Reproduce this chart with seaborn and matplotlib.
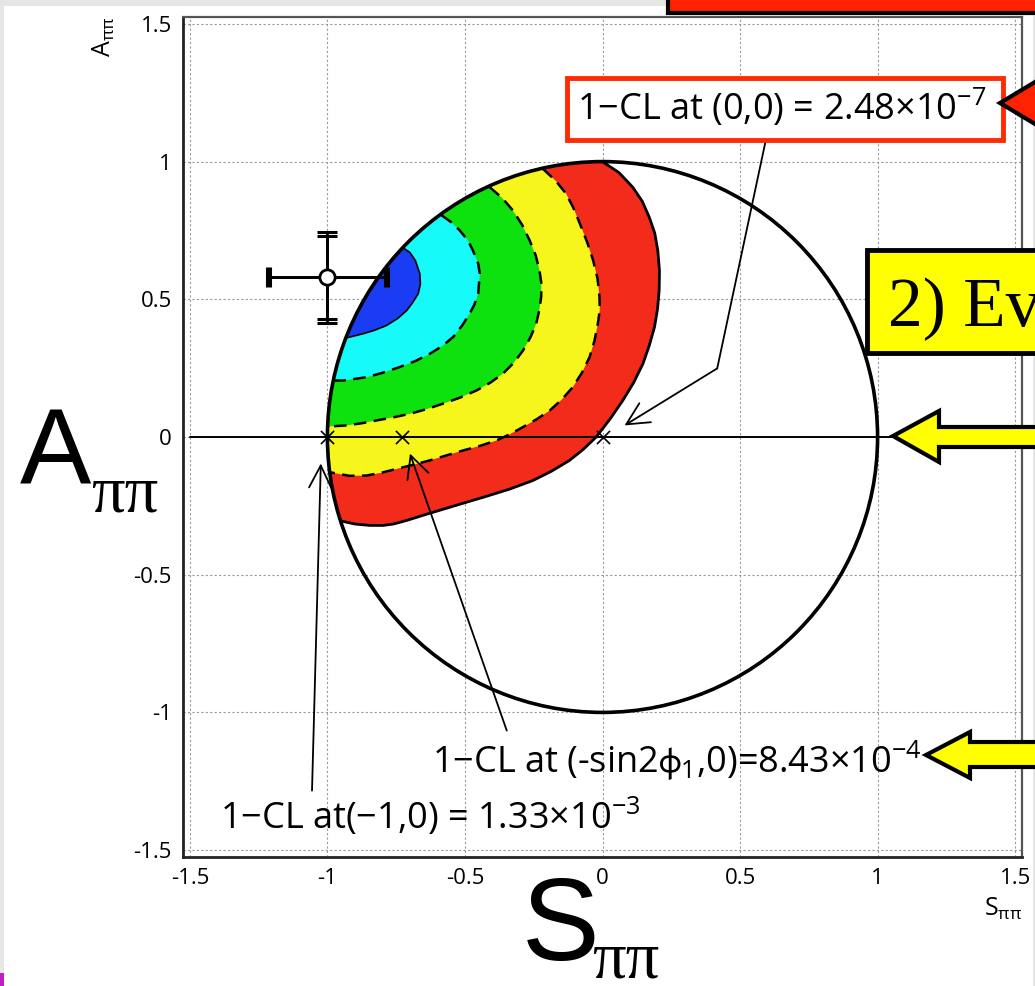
import numpy as np
import matplotlib
matplotlib.use("Agg")
import matplotlib.pyplot as plt
from matplotlib.patches import Circle, Rectangle, Polygon
import pandas as pd
import seaborn as sns

# ---------------- data ----------------
# Belle measurement of time-dependent CP asymmetries in B0 -> pi+ pi-
s_central, a_central = -1.00, 0.58
s_stat, a_stat = 0.21, 0.15
s_total, a_total = 0.22, 0.165

# points tested against the measurement
test_s = [-1.0, -0.73, 0.0]
test_a = [0.0, 0.0, 0.0]

# confidence-level contour boundaries (S, A), each ending on the physical boundary
blue_s = [-0.725, -0.700, -0.680, -0.664, -0.662, -0.670, -0.690, -0.712, -0.745, -0.785, -0.830, -0.870, -0.930]
blue_a = [0.687, 0.670, 0.640, 0.593, 0.555, 0.520, 0.488, 0.459, 0.430, 0.405, 0.387, 0.375, 0.360]

cyan_s = [-0.585, -0.550, -0.519, -0.490, -0.471, -0.452, -0.446, -0.452, -0.466, -0.483, -0.510, -0.543, -0.583, -0.628, -0.680, -0.737, -0.800, -0.858, -0.943, -0.979]
cyan_a = [0.805, 0.780, 0.750, 0.715, 0.677, 0.630, 0.593, 0.520, 0.480, 0.448, 0.405, 0.363, 0.330, 0.302, 0.276, 0.254, 0.233, 0.217, 0.205, 0.205]

green_s = [-0.410, -0.365, -0.326, -0.292, -0.265, -0.243, -0.229, -0.222, -0.223, -0.230, -0.241, -0.262, -0.289, -0.322, -0.362, -0.408, -0.458, -0.518, -0.580, -0.640, -0.701, -0.762, -0.822, -0.875, -0.931, -0.998]
green_a = [0.907, 0.868, 0.823, 0.770, 0.714, 0.660, 0.605, 0.555, 0.508, 0.460, 0.411, 0.362, 0.314, 0.270, 0.230, 0.197, 0.169, 0.143, 0.121, 0.101, 0.084, 0.071, 0.060, 0.050, 0.042, 0.038]

yellow_s = [-0.217, -0.170, -0.132, -0.105, -0.082, -0.056, -0.034, -0.018, -0.011, -0.010, -0.017, -0.029, -0.047, -0.075, -0.108, -0.148, -0.192, -0.240, -0.289, -0.337, -0.386, -0.445, -0.507, -0.568, -0.628, -0.689, -0.749, -0.805, -0.858, -0.920, -0.991]
yellow_a = [0.974, 0.930, 0.883, 0.830, 0.774, 0.708, 0.641, 0.575, 0.508, 0.460, 0.411, 0.350, 0.290, 0.233, 0.181, 0.136, 0.096, 0.064, 0.036, 0.010, -0.013, -0.032, -0.049, -0.067, -0.085, -0.101, -0.116, -0.130, -0.140, -0.141, -0.128]

red_s = [0.001, 0.060, 0.110, 0.145, 0.170, 0.190, 0.201, 0.207, 0.206, 0.200, 0.189, 0.170, 0.147, 0.113, 0.074, 0.028, -0.023, -0.070, -0.120, -0.185, -0.253, -0.340, -0.434, -0.495, -0.555, -0.635, -0.712, -0.760, -0.797, -0.846, -0.900, -0.950]
red_a = [0.999, 0.960, 0.907, 0.855, 0.798, 0.740, 0.677, 0.605, 0.532, 0.465, 0.399, 0.332, 0.266, 0.197, 0.133, 0.066, 0.000, -0.045, -0.085, -0.124, -0.158, -0.190, -0.219, -0.237, -0.255, -0.279, -0.303, -0.316, -0.321, -0.321, -0.316, -0.305]

tick_values = [-1.5, -1.0, -0.5, 0.0, 0.5, 1.0, 1.5]
tick_labels = ["-1.5", "-1", "-0.5", "0", "0.5", "1", "1.5"]

label_00 = "1\u2212CL at (0,0) = 2.48\u00d710$^{-7}$"
label_sin = "1\u2212CL at (-sin2$\\mathrm{\\phi}_{1}$,0)=8.43\u00d710$^{-4}$"
label_m1 = "1\u2212CL at(\u22121,0) = 1.33\u00d710$^{-3}$"

# ---------------- style ----------------
sns.set_style("white")
plt.rcParams["font.family"] = ["Open Sans", "DejaVu Sans"]
plt.rcParams["axes.unicode_minus"] = False
plt.rcParams["mathtext.fontset"] = "custom"
plt.rcParams["mathtext.rm"] = "Open Sans"
plt.rcParams["mathtext.it"] = "Open Sans"
plt.rcParams["mathtext.fallback"] = "stixsans"
for key in ["text.color", "axes.labelcolor", "xtick.color", "ytick.color"]:
    plt.rcParams[key] = "black"

W, H = 1035, 986
fig = plt.figure(figsize=(W / 100, H / 100), dpi=100, facecolor="#e6e6e6")

# slide background
bg = fig.add_axes([0, 0, 1, 1], zorder=-1)
bg.set_xlim(0, W); bg.set_ylim(H, 0); bg.axis("off")
bg.add_patch(Rectangle((4, 6), 1029, 990, fc="white", ec="none"))
bg.add_patch(Rectangle((0, 973), 4, 20, fc="#c020c0", ec="none"))

# chart axes
ax = fig.add_axes([183 / W, 1 - 857 / H, 839 / W, 840 / H], zorder=1)
ax.set_xlim(-1.525, 1.525)
ax.set_ylim(-1.525, 1.525)
ax.set_facecolor("white")


def region(s, a):
    """Close a contour curve back along the unit circle."""
    t0 = np.mod(np.arctan2(a[0], s[0]), 2 * np.pi)
    t1 = np.mod(np.arctan2(a[-1], s[-1]), 2 * np.pi)
    t = np.linspace(t1, t0, 80)
    xs = np.concatenate([s, np.cos(t)])
    ys = np.concatenate([a, np.sin(t)])
    return xs, ys


levels = [
    (red_s, red_a, "#f22b1b", "-", 2.0),
    (yellow_s, yellow_a, "#f6f61c", (0, (5, 3)), 1.8),
    (green_s, green_a, "#0ee20e", (0, (5, 3)), 1.8),
    (cyan_s, cyan_a, "#17fafa", (0, (5, 3)), 1.8),
    (blue_s, blue_a, "#1a3cf2", "-", 1.2),
]
for s, a, col, ls, lw in levels:
    xs, ys = region(np.array(s), np.array(a))
    ax.fill(xs, ys, color=col, lw=0, zorder=2)
    ax.plot(s, a, color="black", ls=ls, lw=lw, zorder=3, solid_joinstyle="round")

# physical boundary S^2 + A^2 = 1
ax.add_patch(Circle((0, 0), 1.0, fill=False, ec="black", lw=2.6, zorder=4))
ax.plot([-1.5, 1.5], [0, 0], color="black", lw=1.4, zorder=4)

# grid and ticks
ax.set_xticks(tick_values)
ax.set_yticks(tick_values)
ax.set_xticklabels(tick_labels)
ax.set_yticklabels(tick_labels)
ax.set_xticks(np.arange(-1.5, 1.51, 0.1), minor=True)
ax.set_yticks(np.arange(-1.5, 1.51, 0.1), minor=True)
ax.grid(True, which="major", ls=(0, (2, 2)), color="#9a9a9a", lw=0.8, zorder=0)
ax.tick_params(which="both", direction="in", top=False, right=False,
               labelsize=16, pad=8, color="#333333")
ax.tick_params(which="major", length=9, width=1.2)
ax.tick_params(which="minor", length=6, width=1.0)
for side in ["left", "bottom"]:
    ax.spines[side].set_linewidth(2.0)
    ax.spines[side].set_color("#222222")
for side in ["top", "right"]:
    ax.spines[side].set_linewidth(1.6)
    ax.spines[side].set_color("#555555")

# tested points
pts = pd.DataFrame({"S": test_s, "A": test_a})
sns.scatterplot(data=pts, x="S", y="A", marker="x", s=90, color="black",
                linewidth=1.2, ax=ax, zorder=5)
ax.set_xlabel("")
ax.set_ylabel("")

# measurement with stat and total errors
ax.errorbar(s_central, a_central, xerr=s_total, yerr=a_total, fmt="none",
            ecolor="black", elinewidth=2.0, capsize=7, capthick=2.2, zorder=6)
ax.errorbar(s_central, a_central, xerr=s_stat, yerr=a_stat, fmt="none",
            ecolor="black", elinewidth=2.0, capsize=7, capthick=2.2, zorder=6)
ax.plot(s_central, a_central, "o", ms=11, mfc="white", mec="black", mew=2.0, zorder=7)

# annotations
arrow_kw = dict(arrowstyle="->", lw=1.3, color="black", mutation_scale=40,
                shrinkA=0, shrinkB=0)
ax.plot([0.592, 0.417], [1.070, 0.249], color="black", lw=1.3, zorder=8)
ax.annotate("", xy=(0.080, 0.042), xytext=(0.417, 0.249), arrowprops=arrow_kw, zorder=8)
ax.annotate("", xy=(-0.700, -0.060), xytext=(-0.348, -1.066), arrowprops=arrow_kw, zorder=8)
ax.annotate("", xy=(-1.024, -0.096), xytext=(-1.056, -1.284), arrowprops=arrow_kw, zorder=8)

ax.text(-0.091, 1.196, label_00, fontsize=26, ha="left", va="center", zorder=10)
ax.text(-0.621, -1.175, label_sin, fontsize=26, ha="left", va="center", zorder=10)
ax.text(-1.390, -1.379, label_m1, fontsize=26, ha="left", va="center", zorder=10)

# overlay in pixel coordinates
ov = fig.add_axes([0, 0, 1, 1], zorder=5)
ov.set_xlim(0, W); ov.set_ylim(H, 0); ov.axis("off"); ov.patch.set_alpha(0)

# red frame under the (0,0) label
ax.add_patch(Rectangle((567, 78), 436, 62, transform=ov.transData, fc="white",
                       ec="#ff2a00", lw=3.5, zorder=9, clip_on=False))

# axis titles
ov.text(104, 17, r"A$_{\pi\pi}$", rotation=90, fontsize=18, ha="center", va="top")
ov.text(1022, 896, r"S$_{\pi\pi}$", fontsize=18, ha="right", va="top")

# large slide labels
ov.text(20, 484, "A", fontsize=77, family="Liberation Sans", ha="left", va="baseline")
ov.text(91, 512, "\u03c0\u03c0", fontsize=48, family="Liberation Serif", ha="left", va="baseline")
ov.text(522, 960, "S", fontsize=84, family="Liberation Sans", ha="left", va="baseline")
ov.text(592, 978, "\u03c0\u03c0", fontsize=48, family="Liberation Serif", ha="left", va="baseline")

# slide boxes and arrows
ov.add_patch(Rectangle((668, -30), 420, 43, fc="#ff2200", ec="black", lw=3))
ov.add_patch(Polygon([(1000, 103), (1075, 58), (1075, 148)], closed=True,
                     fc="#ff2200", ec="black", lw=3))
ov.add_patch(Rectangle((867, 250), 220, 103, fc="#ffff00", ec="black", lw=3.5))
ov.text(888, 325, "2) Evidence", fontsize=50, family="Liberation Serif",
        ha="left", va="baseline")
ov.add_patch(Polygon([(893, 436), (939, 411), (939, 427), (1080, 427), (1080, 447),
                      (939, 447), (939, 462)], closed=True, fc="#ffff00", ec="black", lw=3))
ov.add_patch(Polygon([(926, 755), (970, 732), (970, 742), (1080, 742), (1080, 767),
                      (970, 767), (970, 778)], closed=True, fc="#ffff00", ec="black", lw=3))

fig.savefig("out.png", dpi=100, facecolor=fig.get_facecolor())
